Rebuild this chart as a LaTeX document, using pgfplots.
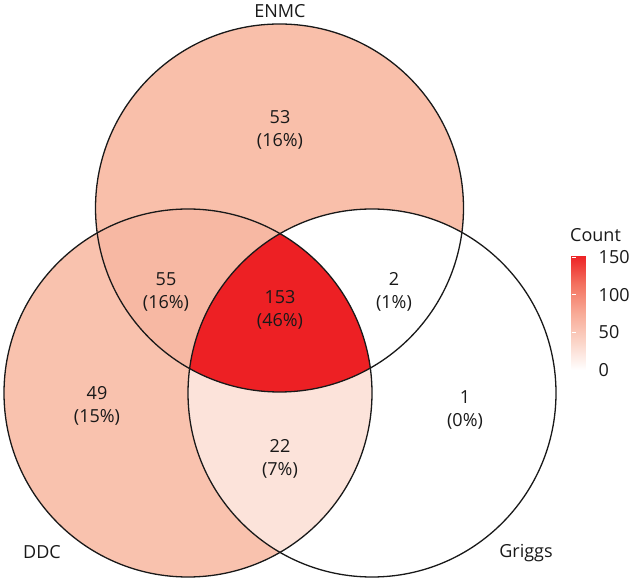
\documentclass[border=0pt]{standalone}
\usepackage{pgfplots}
\pgfplotsset{compat=1.18}
\usepackage{fontspec}
\setmainfont{Open Sans}
\definecolor{cENMC}{RGB}{249,191,170}
\definecolor{cDDC}{RGB}{249,194,174}
\definecolor{cDE}{RGB}{247,184,163}
\definecolor{cDG}{RGB}{252,227,218}
\definecolor{cAll}{RGB}{237,32,36}
\definecolor{txt}{RGB}{25,25,25}
\newcommand{\lbl}{\fontsize{18}{23}\selectfont}
\begin{document}
\begin{tikzpicture}
\begin{axis}[
  name=main,
  x=1pt, y=1pt,
  xmin=0, xmax=631, ymin=0, ymax=580,
  hide axis, clip=false,
  colormap={redvenn}{rgb255(0)=(255,255,255) rgb255(38)=(251,212,199) rgb255(76)=(248,170,150) rgb255(115)=(243,112,94) rgb255(153)=(237,32,36)},
  point meta min=0, point meta max=153,
  colorbar,
  colorbar style={
    at={(parent axis.south west)},
    anchor=south west,
    xshift=563pt, yshift=210pt,
    scale only axis,
    width=23pt, height=115pt,
    ytick={0,50,100,150},
    axis line style={draw=none},
    major tick style={white, line width=0.8pt},
    major tick length=4pt,
    tick align=inside,
    ytick pos=both,
    yticklabel pos=right,
    /pgf/number format/assume math mode=true,
    yticklabel style={font=\lbl, text=txt, inner sep=0pt, anchor=west, xshift=4pt},
  },
]
\fill[cDDC] (axis cs:188,187) circle [radius=184];
\fill[cENMC] (axis cs:279.5,372) circle [radius=184];
\begin{scope}
  \clip (axis cs:188,187) circle [radius=184];
  \fill[cDE] (axis cs:279.5,372) circle [radius=184];
\end{scope}
\fill[white] (axis cs:372,187) circle [radius=184];
\begin{scope}
  \clip (axis cs:372,187) circle [radius=184];
  \fill[cDG] (axis cs:188,187) circle [radius=184];
\end{scope}
\begin{scope}
  \clip (axis cs:372,187) circle [radius=184];
  \clip (axis cs:188,187) circle [radius=184];
  \fill[cAll] (axis cs:279.5,372) circle [radius=184];
\end{scope}
\draw[line width=1.3pt, black!90] (axis cs:279.5,372) circle [radius=184];
\draw[line width=1.3pt, black!90] (axis cs:188,187) circle [radius=184];
\draw[line width=1.3pt, black!90] (axis cs:372,187) circle [radius=184];
\node[font=\lbl, text=txt, inner sep=1pt] at (axis cs:280,569) {ENMC};
\node[font=\lbl, text=txt] at (axis cs:42,28) {DDC};
\node[font=\lbl, text=txt] at (axis cs:526,27) {Griggs};
\node[font=\lbl, text=txt, align=center] at (axis cs:280,450) {53\\(16\%)};
\node[font=\lbl, text=txt, align=center] at (axis cs:166,288) {55\\(16\%)};
\node[font=\lbl, text=txt, align=center] at (axis cs:280,270) {153\\(46\%)};
\node[font=\lbl, text=txt, align=center] at (axis cs:394,288) {2\\(1\%)};
\node[font=\lbl, text=txt, align=center] at (axis cs:97,174) {49\\(15\%)};
\node[font=\lbl, text=txt, align=center] at (axis cs:465,170) {1\\(0\%)};
\node[font=\lbl, text=txt, align=center] at (axis cs:280,121) {22\\(7\%)};
\node[font=\lbl, text=txt, anchor=west, inner sep=0pt] at (axis cs:570,345) {Count};
\end{axis}
\pgfresetboundingbox
\path (main.south west) rectangle ([xshift=631pt,yshift=580pt]main.south west);
\end{tikzpicture}
\end{document}
